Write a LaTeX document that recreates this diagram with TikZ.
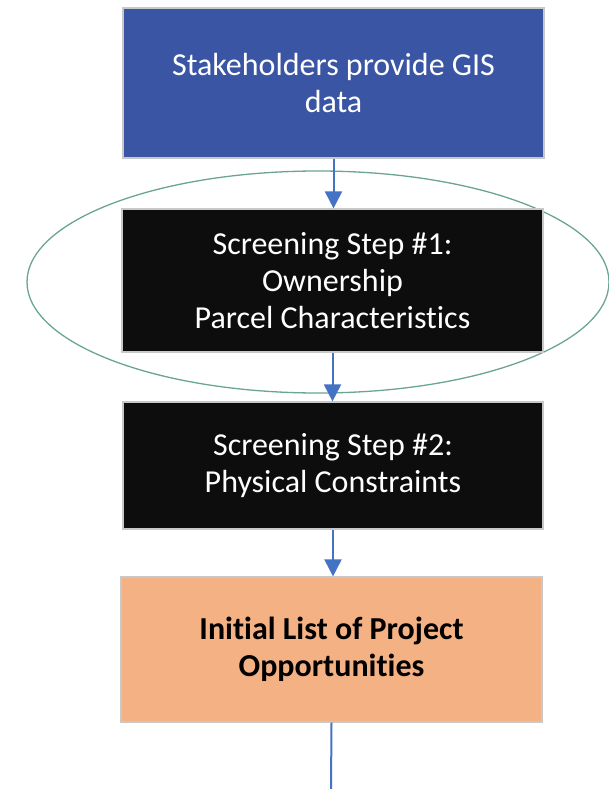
\documentclass[tikz,border=0pt]{standalone}
\usepackage{fontspec}
\setmainfont{Carlito}[Ligatures={NoCommon}]
\usetikzlibrary{arrows.meta,shapes.geometric}
\definecolor{boxblue}{HTML}{3B55A5}
\definecolor{boxblack}{HTML}{0D0D0D}
\definecolor{boxorange}{HTML}{F4B183}
\definecolor{arrowblue}{HTML}{4472C4}
\definecolor{ellgreen}{HTML}{6AA593}
\definecolor{edgegray}{HTML}{C8C8C8}
\begin{document}
\begin{tikzpicture}[x=1pt,y=-1pt,
  flowbox/.style={rectangle, draw=edgegray, line width=1.2pt, inner sep=0pt, align=center,
    font=\fontsize{32}{37}\selectfont},
  conn/.style={draw=arrowblue, line width=2pt, -{Triangle[width=17pt,length=17pt]}},
  plain/.style={draw=arrowblue, line width=2pt}]
\useasboundingbox (0,0) rectangle (608,789);
\node[ellipse, draw=ellgreen, line width=1.3pt, minimum width=582pt, minimum height=222pt, inner sep=0pt] (ell) at (318,282) {};
\node[flowbox, fill=boxblue, text=white, minimum width=421pt, minimum height=150pt] (src) at (333.5,83) {Stakeholders provide GIS\\data};
\node[flowbox, fill=boxblack, text=white, minimum width=421pt, minimum height=143pt] (s1) at (332.5,280.5) {Screening Step \#1:\\Ownership\\Parcel Characteristics};
\node[flowbox, fill=boxblack, text=white, minimum width=420pt, minimum height=127pt] (s2) at (333,465.5) {Screening Step \#2:\\Physical Constraints};
\node[flowbox, fill=boxorange, text=black, minimum width=421pt, minimum height=145pt, font=\fontsize{32}{37}\selectfont\bfseries] (out) at (331.5,649.5) {Initial List of Project\\Opportunities};
\coordinate (end) at (331,789);
\draw[conn] (src.south) -- (src.south |- s1.north);
\draw[conn] (s1.south) -- (s1.south |- s2.north);
\draw[conn] (s2.south) -- (s2.south |- out.north);
\draw[plain] (out.south) -- (end);
\end{tikzpicture}
\end{document}
